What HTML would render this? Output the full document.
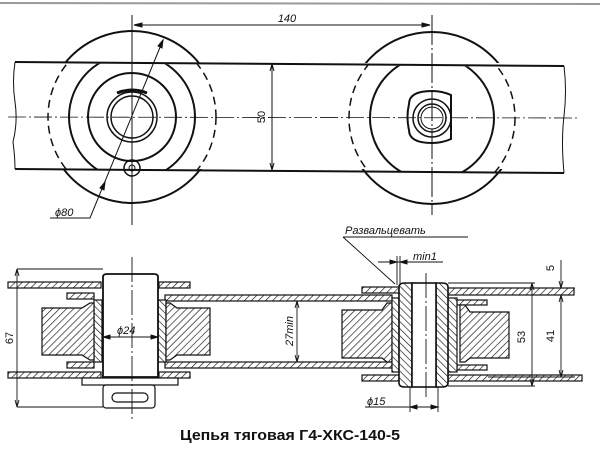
<!DOCTYPE html>
<html><head><meta charset="utf-8"><style>
html,body{margin:0;padding:0;background:#fff;}
svg{display:block;}
text{font-family:"Liberation Sans",sans-serif;fill:#111;}
.i{font-style:italic;font-size:11px;}
</style></head><body>
<svg width="600" height="450" viewBox="0 0 600 450" xmlns="http://www.w3.org/2000/svg">
<defs>
<pattern id="h" width="5" height="5" patternUnits="userSpaceOnUse" patternTransform="rotate(45)">
<rect width="5" height="5" fill="#fff"/><line x1="0" y1="0" x2="0" y2="5" stroke="#111" stroke-width="1.3"/></pattern>
<pattern id="h2" width="5" height="5" patternUnits="userSpaceOnUse" patternTransform="rotate(-45)">
<rect width="5" height="5" fill="#fff"/><line x1="0" y1="0" x2="0" y2="5" stroke="#111" stroke-width="1.3"/></pattern>
<clipPath id="band"><polygon points="15,63 564,67 564,172 15,169"/></clipPath>
<clipPath id="out"><path d="M0,0H600V63H0Z M0,169H600V230H0Z"/></clipPath>
</defs>
<line x1="0" y1="3" x2="600" y2="4" stroke="#999" stroke-width="2"/>
<g fill="none" stroke="#111">
<!-- TOP VIEW -->
<path d="M15,62 L564,66 M15,169 L564,173" stroke-width="2"/>
<path d="M15,62 q-3,20 0,40 q3,20 -2,40 q2,15 2,27 M564,66 q3,25 0,50 q-3,25 0,57" stroke-width="1"/>
<line x1="8" y1="117" x2="578" y2="118" stroke-width="0.8" stroke-dasharray="18,3,2,3"/>
<g clip-path="url(#out)" stroke-width="2"><circle cx="132" cy="117" r="86"/><circle cx="432" cy="118" r="86"/></g>
<g clip-path="url(#band)" stroke-width="1.5" stroke-dasharray="8,5"><circle cx="132" cy="117" r="84"/><circle cx="432" cy="118" r="83"/></g>
<g clip-path="url(#band)" stroke-width="2"><circle cx="132" cy="117" r="63"/><circle cx="432" cy="118" r="62"/></g>
<circle cx="132" cy="117" r="44" stroke-width="2"/>
<circle cx="132" cy="117" r="25" stroke-width="1.5"/>
<circle cx="132" cy="117" r="21" stroke-width="1.5"/>
<path d="M117,93 q15,-6 30,0" stroke-width="3"/>
<circle cx="132" cy="168" r="8" stroke-width="1.5"/>
<circle cx="132" cy="168" r="3" stroke-width="1"/>
<path d="M409,104 q0,-13 23,-13 q10,0 19,4 l0,44 q-9,4 -19,4 q-23,0 -23,-13 q-3,-13 0,-26z" stroke-width="2"/>
<circle cx="432" cy="118" r="19" stroke-width="1.5"/>
<circle cx="432" cy="118" r="14" stroke-width="1.5"/>
<circle cx="432" cy="118" r="11" stroke-width="1"/>
<line x1="132" y1="15" x2="132" y2="225" stroke-width="1"/>
<line x1="432" y1="15" x2="432" y2="215" stroke-width="1" stroke-dasharray="30,3,2,3"/>
<line x1="134" y1="25" x2="430" y2="25" stroke-width="1"/>
<path d="M134,25 l8,-2 v4z M430,25 l-8,-2 v4z" fill="#111"/>
<line x1="272" y1="64" x2="272" y2="170" stroke-width="1"/>
<path d="M272,64 l-2,7 M272,64 l2,7 M272,170 l-2,-7 M272,170 l2,-7" stroke-width="1"/>
<path d="M163,40 L90,218 L50,218" stroke-width="1"/>
<path d="M163,40 l-1,8 l-4,-2z M105,182 l-1,8 l-4,-2z" fill="#111"/>
</g>
<text x="287" y="22" class="i" text-anchor="middle">140</text>
<text transform="translate(265,117) rotate(-90)" font-size="11" text-anchor="middle">50</text>
<text x="55" y="216" class="i">ϕ80</text>

<!-- BOTTOM VIEW -->
<g stroke="#111" stroke-width="1.2">
<!-- left plates -->
<rect x="8" y="282" width="93" height="6" fill="url(#h)"/>
<rect x="159" y="282" width="31" height="6" fill="url(#h)"/>
<rect x="8" y="372" width="93" height="6" fill="url(#h)"/>
<rect x="159" y="372" width="31" height="6" fill="url(#h)"/>
<rect x="67" y="293" width="27" height="6" fill="url(#h)"/>
<rect x="67" y="362" width="27" height="6" fill="url(#h)"/>
<rect x="165" y="295" width="227" height="6" fill="url(#h)"/>
<rect x="165" y="362" width="227" height="6" fill="url(#h)"/>
<rect x="94" y="300" width="8" height="62" fill="url(#h2)"/>
<rect x="158" y="300" width="8" height="62" fill="url(#h2)"/>
<path d="M42,308 H82 L90,303 H94 V360 H90 L82,355 H42Z" fill="url(#h)"/>
<path d="M210,308 H177 L170,303 H166 V360 H170 L177,355 H210Z" fill="url(#h)"/>
<path d="M103,277 q0,-3 4,-3 h47 q4,0 4,3 V377 H103Z" fill="#fff" stroke-width="1.8"/>
<rect x="82" y="378" width="96" height="7" fill="#fff"/>
<rect x="103" y="385" width="52" height="23" rx="3" fill="#fff"/>
<rect x="112" y="393" width="36" height="9" rx="4.5" fill="none"/>
<!-- right -->
<rect x="362" y="287" width="37" height="6" fill="url(#h)"/>
<rect x="448" y="288" width="126" height="7" fill="url(#h)"/>
<rect x="362" y="375" width="37" height="6" fill="url(#h)"/>
<rect x="448" y="375" width="134" height="6" fill="url(#h)"/>
<rect x="457" y="300" width="30" height="5" fill="url(#h)"/>
<rect x="457" y="365" width="30" height="5" fill="url(#h)"/>
<path d="M342,310 H382 L387,303 H392 V362 H387 L382,358 H342Z" fill="url(#h)"/>
<path d="M509,312 H470 L465,305 H460 V362 H465 L470,358 H509Z" fill="url(#h)"/>
<rect x="392" y="298" width="7" height="74" fill="url(#h2)"/>
<rect x="448" y="298" width="9" height="74" fill="url(#h2)"/>
<path d="M399,287 q0,-4 6,-4 H412 V387 H405 q-6,0 -6,-4Z" fill="url(#h2)" stroke-width="1.6"/>
<path d="M448,287 q0,-4 -6,-4 H436 V387 H442 q6,0 6,-4Z" fill="url(#h2)" stroke-width="1.6"/>
<rect x="412" y="283" width="24" height="104" fill="#fff" stroke-width="1.6"/>
</g>
<g fill="none" stroke="#111" stroke-width="0.9">
<line x1="132" y1="257" x2="132" y2="422" stroke-dasharray="25,3,2,3"/>
<line x1="426" y1="273" x2="426" y2="397" stroke-dasharray="25,3,2,3"/>
<line x1="17" y1="269" x2="17" y2="407"/>
<path d="M17,269 h86 M17,407 h86"/>
<path d="M17,269 l-2,7 M17,269 l2,7 M17,407 l-2,-7 M17,407 l2,-7"/>
<line x1="103" y1="337" x2="158" y2="337"/>
<path d="M103,337 l7,-2 v4z M158,337 l-7,-2 v4z" fill="#111"/>
<line x1="297" y1="301" x2="297" y2="362"/>
<path d="M297,301 l-2,7 M297,301 l2,7 M297,362 l-2,-7 M297,362 l2,-7"/>
<path d="M448,283 H535 M448,386 H535 M532,283 V386"/>
<path d="M532,283 l-2,7 M532,283 l2,7 M532,386 l-2,-7 M532,386 l2,-7"/>
<path d="M488,288 H575 M488,377 H575 M561,260 V288 M561,295 V377"/>
<path d="M561,295 l-2,7 M561,295 l2,7 M561,377 l-2,-7 M561,377 l2,-7 M561,288 l-2,-7 M561,288 l2,-7"/>
<path d="M410,387 V412 M438,387 V412 M365,407 H438"/>
<path d="M410,407 l7,-2 v4z M438,407 l-7,-2 v4z" fill="#111"/>
<path d="M397,256 V285 M400,256 V285 M378,262 H443"/>
<path d="M397,262 l-7,-2 v4z M400,262 l7,-2 v4z" fill="#111"/>
<path d="M343,237 H468 M343,237 L395,284"/>
</g>
<text x="345" y="234" class="i" font-size="10">Развальцевать</text>
<text x="413" y="260" class="i" font-size="10">min1</text>
<text x="367" y="405" class="i">ϕ15</text>
<text x="117" y="334" class="i">ϕ24</text>
<text transform="translate(293,331) rotate(-90)" class="i" text-anchor="middle">27min</text>
<text transform="translate(13,338) rotate(-90)" font-size="11" text-anchor="middle">67</text>
<text transform="translate(525,337) rotate(-90)" font-size="11" text-anchor="middle">53</text>
<text transform="translate(554,336) rotate(-90)" font-size="11" text-anchor="middle">41</text>
<text transform="translate(554,268) rotate(-90)" font-size="11" text-anchor="middle">5</text>
<text x="180" y="440" font-size="15" font-weight="bold" textLength="220" lengthAdjust="spacingAndGlyphs" style="font-family:'Liberation Sans Narrow','Liberation Sans',sans-serif">Цепья тяговая Г4-ХКС-140-5</text>
</svg>
</body></html>
